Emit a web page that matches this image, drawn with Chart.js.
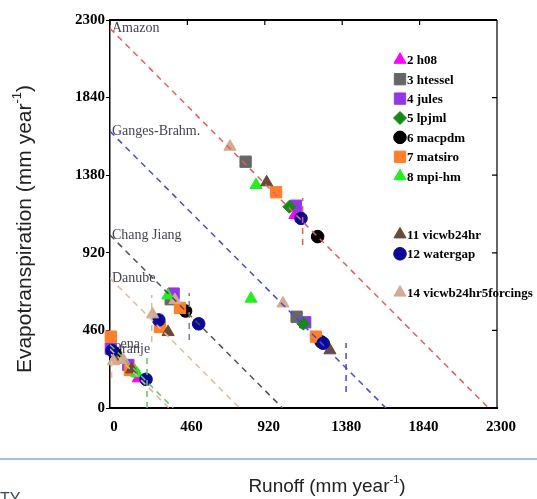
<!DOCTYPE html>
<html>
<head>
<meta charset="utf-8">
<script src="https://cdn.jsdelivr.net/npm/chart.js@4.4.1/dist/chart.umd.min.js"></script>
<style>
  html, body { margin: 0; padding: 0; background: #fff; }
</style>
</head>
<body>
<canvas id="chart" width="537" height="499"></canvas>
<script>
const tickValues = [0, 460, 920, 1380, 1840, 2300];

// basins: the dashed diagonal is E + R = P
const basins = ['Amazon', 'Ganges-Brahm.', 'Chang Jiang', 'Danube', 'Lena', 'Oranje'];
const basinPrecip = [2250, 1640, 1025, 770, 375, 350];
const obsRunoff = [1145, 1403, 471, 248, 220, 10];
const obsEvapLow = [966, 95, 403, 391, 0, 180];
const obsEvapHigh = [1245, 385, 682, 670, 296, 320];

const modelNames = ['2 h08', '3 htessel', '4 jules', '5 lpjml', '6 macpdm', '7 matsiro',
  '8 mpi-hm', '11 vicwb24hr', '12 watergap', '14 vicwb24hr5forcings'];

// [runoff, evapotranspiration] per basin, same order as basins (null = not plotted)
const h08       = [[1099, 1144], null, null, null, [168, 176], null];
const htessel   = [[806, 1460], [1109, 541], [361, 645], null, null, null];
const jules     = [[1105, 1199], [1160, 508], [378, 678], null, [109, 255], [5, 352]];
const lpjml     = [[1066, 1193], [1149, 500], null, null, [139, 221], null];
const macpdm    = [[1234, 1016], [1255, 392], [449, 575], null, null, [30, 324]];
const matsiro   = [[987, 1279], [1224, 423], [416, 593], [297, 480], [119, 225], [5, 423]];
const mpihm     = [[868, 1322], [838, 648], [344, 667], null, [159, 206], null];
const vicwb24hr = [[931, 1338], [1307, 342], null, [345, 450], [129, 229], [36, 285]];
const watergap  = [[1135, 1124], [1267, 384], [527, 499], [290, 522], [214, 170], [12, 340]];
const vicwb5f   = [[713, 1549], [1028, 620], [386, 640], [253, 555], [79, 285], [20, 277]];
const modelValues = [h08, htessel, jules, lpjml, macpdm, matsiro, mpihm, vicwb24hr, watergap, vicwb5f];

const basinColors = ['#e3605c', '#4a4ad2', '#505050', '#dcbca4', '#66c266', '#e8b092'];
const obsColors = ['#e3605c', '#4a4ad2', '#808080', '#d4bca6', '#66c266', '#e8c0a8'];
const markers = [
  { style: 'triangle', color: '#ff00ff', r: 7 },
  { style: 'rect', color: '#666666', r: 8 },
  { style: 'rect', color: '#9436e6', r: 8 },
  { style: 'rectRot', color: '#168a16', r: 6.5 },
  { style: 'circle', color: '#000000', r: 6.3 },
  { style: 'rect', color: '#ff7f2a', r: 8 },
  { style: 'triangle', color: '#22ee22', r: 7 },
  { style: 'triangle', color: '#6b4a36', r: 7 },
  { style: 'circle', color: '#0a0a96', r: 6.3 },
  { style: 'triangle', color: '#d4aa92', r: 7 }
];

const datasets = [];
basins.forEach((b, i) => {
  datasets.push({
    label: b,
    data: [{ x: 0, y: basinPrecip[i] }, { x: basinPrecip[i], y: 0 }],
    showLine: true, pointRadius: 0, borderColor: basinColors[i],
    borderWidth: 1.5, borderDash: [6, 5], order: 0
  });
  datasets.push({
    label: b + ' obs',
    data: [{ x: obsRunoff[i], y: obsEvapLow[i] }, { x: obsRunoff[i], y: obsEvapHigh[i] }],
    showLine: true, pointRadius: 0, borderColor: obsColors[i],
    borderWidth: 1.5, borderDash: [6, 5], order: 0, clip: false
  });
});
modelValues.forEach((vals, i) => {
  const m = markers[i];
  datasets.push({
    label: modelNames[i],
    data: vals.filter(v => v).map(v => ({ x: v[0], y: v[1] })),
    showLine: false,
    pointStyle: m.style, pointRadius: m.r,
    backgroundColor: m.color, borderColor: m.color, borderWidth: 1,
    order: modelNames.length - i, clip: false
  });
});

function drawSupText(ctx, parts, size) {
  // parts: [text, isSuperscript]; drawn centred on the origin
  const supSize = Math.round(size * 0.6);
  let total = 0;
  parts.forEach(p => {
    ctx.font = (p[1] ? supSize : size) + 'px "Liberation Sans", Arial, sans-serif';
    total += ctx.measureText(p[0]).width;
  });
  let x = -total / 2;
  ctx.textAlign = 'left';
  ctx.textBaseline = 'middle';
  parts.forEach(p => {
    ctx.font = (p[1] ? supSize : size) + 'px "Liberation Sans", Arial, sans-serif';
    ctx.fillText(p[0], x, p[1] ? -size * 0.35 : 0);
    x += ctx.measureText(p[0]).width;
  });
}

const decorations = {
  id: 'decorations',
  beforeDatasetsDraw(chart) {
    const { ctx, chartArea, scales } = chart;
    ctx.save();
    ctx.font = '14px "Liberation Serif", "Times New Roman", serif';
    ctx.fillStyle = '#454550';
    ctx.textAlign = 'left';
    ctx.textBaseline = 'middle';
    basins.forEach((b, i) => {
      ctx.fillText(b, chartArea.left + 2, scales.y.getPixelForValue(basinPrecip[i]));
    });
    ctx.restore();
  },
  afterDraw(chart) {
    const { ctx, chartArea, scales } = chart;
    const { left, right, top, bottom } = chartArea;
    ctx.save();
    // frame top and right with inward ticks
    ctx.strokeStyle = '#000';
    ctx.lineWidth = 2;
    ctx.beginPath();
    ctx.moveTo(left, top); ctx.lineTo(right, top);
    ctx.stroke();
    ctx.lineWidth = 1.2;
    ctx.beginPath();
    ctx.moveTo(right, top); ctx.lineTo(right, bottom);
    tickValues.forEach(v => {
      const px = scales.x.getPixelForValue(v);
      ctx.moveTo(px, top); ctx.lineTo(px, top + 5);
      const py = scales.y.getPixelForValue(v);
      ctx.moveTo(right, py); ctx.lineTo(right - 5, py);
    });
    ctx.stroke();

    // legend
    modelNames.forEach((name, i) => {
      const m = markers[i];
      const slot = parseInt(name, 10);
      const y = top + 1 + slot * 19.4;
      const x = left + 290;
      ctx.fillStyle = m.color;
      ctx.strokeStyle = m.color;
      ctx.lineWidth = 1;
      Chart.helpers.drawPoint(ctx, { pointStyle: m.style, radius: m.r, rotation: 0, borderWidth: 1 }, x, y);
      ctx.fillStyle = '#000';
      ctx.font = 'bold 13px "Liberation Serif", "Times New Roman", serif';
      ctx.textAlign = 'left';
      ctx.textBaseline = 'middle';
      ctx.fillText(name, x + 7, y + 1);
    });

    // axis titles
    ctx.fillStyle = '#222';
    ctx.save();
    ctx.translate(25, (top + bottom) / 2 + 15);
    ctx.rotate(-Math.PI / 2);
    drawSupText(ctx, [['Evapotranspiration (mm year', false], ['-1', true], [')', false]], 21);
    ctx.restore();
    ctx.save();
    ctx.translate(327, 487);
    drawSupText(ctx, [['Runoff (mm year', false], ['-1', true], [')', false]], 19);
    ctx.restore();

    // page rule and clipped text below the figure
    ctx.strokeStyle = '#8aaac8';
    ctx.lineWidth = 1.5;
    ctx.beginPath();
    ctx.moveTo(0, 459); ctx.lineTo(chart.width, 459);
    ctx.stroke();
    ctx.fillStyle = '#3c4b5c';
    ctx.font = '16px "Liberation Sans", Arial, sans-serif';
    ctx.textAlign = 'left';
    ctx.textBaseline = 'top';
    ctx.fillText('TY', 0, 492);
    ctx.restore();
  }
};

const tickFont = { family: '"Liberation Serif", "Times New Roman", serif', size: 15, weight: 'bold' };

new Chart(document.getElementById('chart'), {
  type: 'scatter',
  data: { datasets: datasets },
  options: {
    responsive: false,
    animation: false,
    devicePixelRatio: 1,
    layout: { padding: { top: 20, right: 40, left: 0, bottom: 0 } },
    plugins: { legend: { display: false }, tooltip: { enabled: false } },
    scales: {
      x: {
        type: 'linear', min: 0, max: 2300,
        afterBuildTicks: s => { s.ticks = tickValues.map(v => ({ value: v })); },
        afterFit: s => { s.height = 91; },
        grid: { display: false },
        border: { display: true, color: '#000', width: 2 },
        ticks: { font: tickFont, color: '#000', padding: 2, labelOffset: 4, maxRotation: 0,
          callback: v => String(v) }
      },
      y: {
        type: 'linear', min: 0, max: 2300,
        afterBuildTicks: s => { s.ticks = tickValues.map(v => ({ value: v })); },
        afterFit: s => { s.width = 110; },
        grid: { display: true, drawOnChartArea: false, drawTicks: true, tickLength: 4, color: '#000' },
        border: { display: true, color: '#000', width: 1.5 },
        ticks: { font: tickFont, color: '#000', padding: 1, callback: v => String(v) }
      }
    }
  },
  plugins: [decorations]
});
</script>
</body>
</html>
